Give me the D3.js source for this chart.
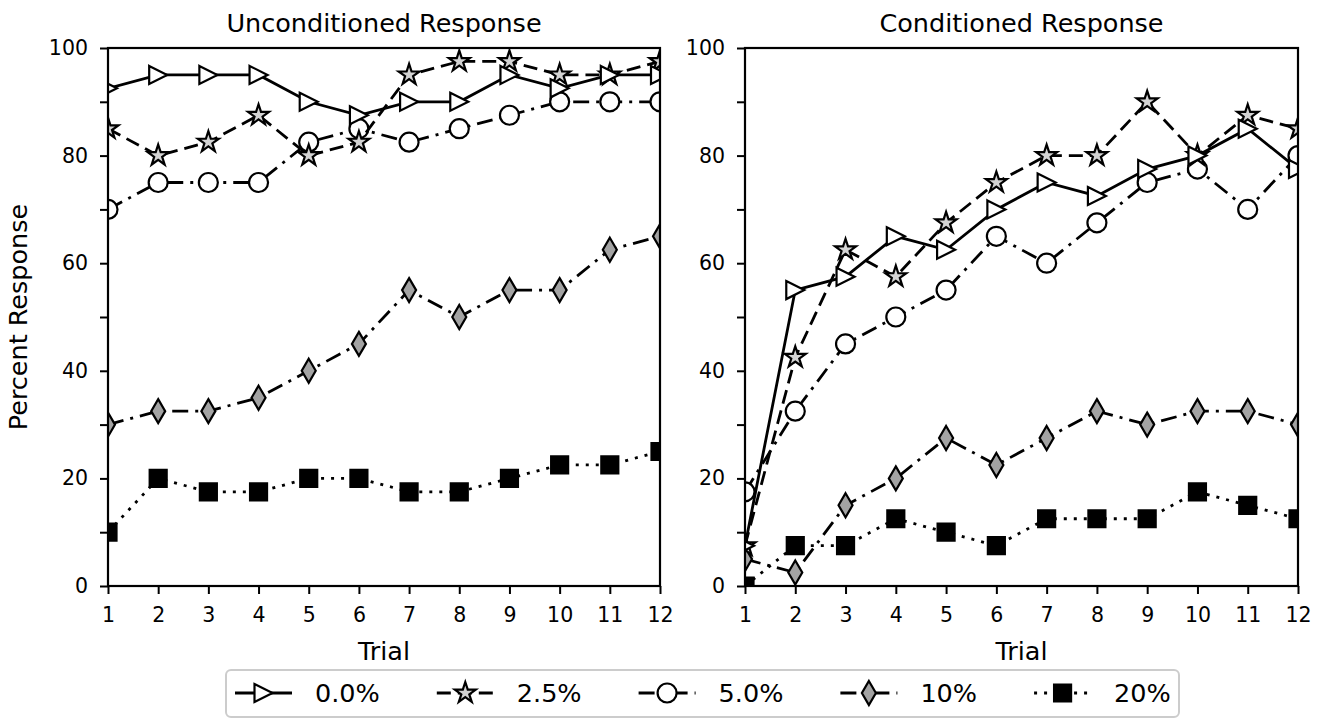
<!DOCTYPE html>
<html lang="en">
  <head>
    <meta charset="utf-8">
    <title>Unconditioned and Conditioned Response</title>
    <script type="text/javascript" src="https://d3js.org/d3.v7.min.js"></script>
    <style type="text/css">
    body {
      margin: 0;
      background: white;
    }
    text {
      font-family: "DejaVu Sans", sans-serif;
      fill: #000;
    }
    .axis path,
    .axis line {
      stroke: #000;
      stroke-width: 2px;
    }
    .axis text {
      font-size: 20.5px;
    }
    .title, .label {
      font-size: 25.5px;
    }
    </style>
  </head>
  <body>
    <svg width="1327" height="719" id="chart"></svg>

    <script type="text/javascript">

    const trials = [1, 2, 3, 4, 5, 6, 7, 8, 9, 10, 11, 12];
    const conditions = ["0.0%", "2.5%", "5.0%", "10%", "20%"];
    const yTicks = [0, 10, 20, 30, 40, 50, 60, 70, 80, 90, 100];

    // unconditioned response, one array per condition
    const ur00 = [92.5, 95, 95, 95, 90, 87.5, 90, 90, 95, 92.5, 95, 95];
    const ur25 = [85, 80, 82.5, 87.5, 80, 82.5, 95, 97.5, 97.5, 95, 95, 97.5];
    const ur50 = [70, 75, 75, 75, 82.5, 85, 82.5, 85, 87.5, 90, 90, 90];
    const ur10 = [30, 32.5, 32.5, 35, 40, 45, 55, 50, 55, 55, 62.5, 65];
    const ur20 = [10, 20, 17.5, 17.5, 20, 20, 17.5, 17.5, 20, 22.5, 22.5, 25];

    // conditioned response
    const cr00 = [7.5, 55, 57.5, 65, 62.5, 70, 75, 72.5, 77.5, 80, 85, 77.5];
    const cr25 = [7.5, 42.5, 62.5, 57.5, 67.5, 75, 80, 80, 90, 80, 87.5, 85];
    const cr50 = [17.5, 32.5, 45, 50, 55, 65, 60, 67.5, 75, 77.5, 70, 80];
    const cr10 = [5, 2.5, 15, 20, 27.5, 22.5, 27.5, 32.5, 30, 32.5, 32.5, 30];
    const cr20 = [0, 7.5, 7.5, 12.5, 10, 7.5, 12.5, 12.5, 12.5, 17.5, 15, 12.5];

    const plotTop = 48;
    const plotBottom = 586;

    // look of each condition
    const styles = [
      {dash: null,         fill: "white",   marker: "triangle"},
      {dash: "14,7",       fill: "#d3d3d3", marker: "star"},
      {dash: "16,7,3,7",   fill: "white",   marker: "circle"},
      {dash: "16,7,3,7",   fill: "#a3a3a3", marker: "diamond"},
      {dash: "3,7",        fill: "black",   marker: "square"}
    ];

    function markerPath(kind) {
      if (kind === "triangle") {
        return "M-9,-9L9,0L-9,9Z";
      } else if (kind === "diamond") {
        return "M0,-12L7,0L0,12L-7,0Z";
      } else if (kind === "square") {
        return d3.symbol(d3.symbolSquare, 17 * 17)();
      } else if (kind === "circle") {
        return d3.symbol(d3.symbolCircle, Math.PI * 9.5 * 9.5)();
      } else {
        return d3.symbol(d3.symbolStar, 11 * 11 / 0.8908)();
      }
    }

    const svg = d3.select("#chart");

    const yScale = d3.scaleLinear()
        .domain([0, 100])
        .range([plotBottom, plotTop]);

    const panels = [
      {id: "u", title: "Unconditioned Response", left: 108, right: 660,
       series: [ur00, ur25, ur50, ur10, ur20]},
      {id: "c", title: "Conditioned Response", left: 745, right: 1298,
       series: [cr00, cr25, cr50, cr10, cr20]}
    ];

    panels.forEach(function(p) {

      const xScale = d3.scaleLinear()
          .domain([1, 12])
          .range([p.left, p.right]);

      svg.append("clipPath")
          .attr("id", "clip" + p.id)
          .append("rect")
          .attr("x", p.left)
          .attr("y", plotTop)
          .attr("width", p.right - p.left)
          .attr("height", plotBottom - plotTop);

      const plot = svg.append("g")
          .attr("clip-path", "url(#clip" + p.id + ")");

      const line = d3.line()
          .x((d, i) => xScale(trials[i]))
          .y(d => yScale(d));

      // draw bottom series first so 0.0% sits on top
      for (let s = p.series.length - 1; s >= 0; s--) {
        const st = styles[s];
        plot.append("path")
            .datum(p.series[s])
            .attr("d", line)
            .attr("fill", "none")
            .attr("stroke", "#000")
            .attr("stroke-width", 2.8)
            .attr("stroke-dasharray", st.dash);

        plot.selectAll(".m" + s)
            .data(p.series[s])
            .enter()
            .append("path")
            .attr("class", "m" + s)
            .attr("d", markerPath(st.marker))
            .attr("transform", (d, i) => "translate(" + xScale(trials[i]) + "," + yScale(d) + ")")
            .attr("fill", st.fill)
            .attr("stroke", "#000")
            .attr("stroke-width", 2.2);
      }

      // frame
      svg.append("rect")
          .attr("x", p.left)
          .attr("y", plotTop)
          .attr("width", p.right - p.left)
          .attr("height", plotBottom - plotTop)
          .attr("fill", "none")
          .attr("stroke", "#000")
          .attr("stroke-width", 2.2);

      const bottomAxis = d3.axisBottom(xScale)
          .tickValues(trials)
          .tickFormat(d3.format("d"))
          .tickSize(8)
          .tickPadding(13)
          .tickSizeOuter(0);

      const leftAxis = d3.axisLeft(yScale)
          .tickValues(yTicks)
          .tickFormat(d => d % 20 === 0 ? d : "")
          .tickSize(8)
          .tickPadding(12)
          .tickSizeOuter(0);

      svg.append("g")
          .attr("class", "axis")
          .attr("transform", "translate(0," + plotBottom + ")")
          .call(bottomAxis)
          .call(g => g.select(".domain").remove())
          .selectAll("text")
          .attr("fill", "#000");

      svg.append("g")
          .attr("class", "axis")
          .attr("transform", "translate(" + p.left + ",0)")
          .call(leftAxis)
          .call(g => g.select(".domain").remove())
          .selectAll("text")
          .attr("fill", "#000");

      svg.append("text")
          .attr("class", "title")
          .attr("text-anchor", "middle")
          .attr("x", (p.left + p.right) / 2)
          .attr("y", 32)
          .text(p.title);

      svg.append("text")
          .attr("class", "label")
          .attr("text-anchor", "middle")
          .attr("x", (p.left + p.right) / 2)
          .attr("y", 660)
          .text("Trial");
    });

    svg.append("text")
        .attr("class", "label")
        .attr("text-anchor", "middle")
        .attr("transform", "translate(27," + (plotTop + plotBottom) / 2 + ") rotate(-90)")
        .text("Percent Response");

    // legend
    const legendY = 693;
    svg.append("rect")
        .attr("x", 226)
        .attr("y", 670)
        .attr("width", 953)
        .attr("height", 47)
        .attr("rx", 5)
        .attr("fill", "white")
        .attr("stroke", "#cccccc")
        .attr("stroke-width", 2);

    let cursor = 235;
    conditions.forEach(function(name, i) {
      const st = styles[i];
      const g = svg.append("g");
      g.append("line")
          .attr("x1", cursor)
          .attr("x2", cursor + 57)
          .attr("y1", legendY)
          .attr("y2", legendY)
          .attr("stroke", "#000")
          .attr("stroke-width", 2.8)
          .attr("stroke-dasharray", st.dash);
      g.append("path")
          .attr("d", markerPath(st.marker))
          .attr("transform", "translate(" + (cursor + 28.5) + "," + legendY + ")")
          .attr("fill", st.fill)
          .attr("stroke", "#000")
          .attr("stroke-width", 2.2);
      const t = g.append("text")
          .attr("class", "label")
          .attr("x", cursor + 80)
          .attr("y", legendY)
          .attr("dy", "0.36em")
          .text(name);
      cursor = cursor + 80 + t.node().getComputedTextLength() + 57;
    });

    </script>
  </body>
</html>
